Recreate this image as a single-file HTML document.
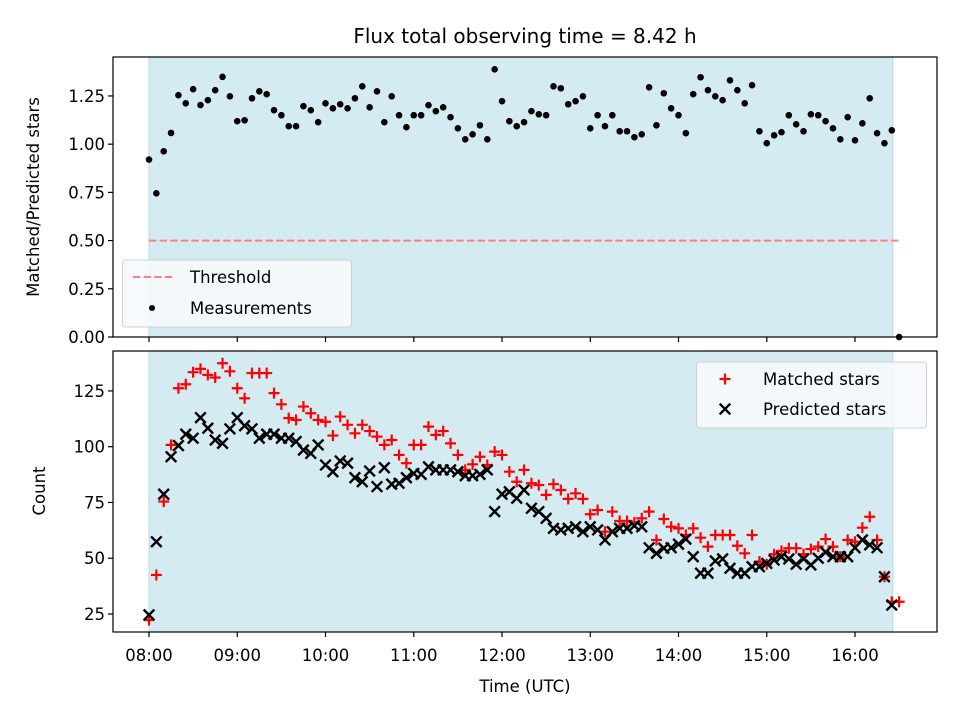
<!DOCTYPE html>
<html><head><meta charset="utf-8"><style>
html,body{margin:0;padding:0;background:#fff;}
svg{display:block;font-family:"DejaVu Sans","Liberation Sans",sans-serif;}
</style></head><body>
<svg id="fig" width="960" height="720" viewBox="0 0 960 720" xmlns="http://www.w3.org/2000/svg"></svg>
<script>
const ratioValues=[0.92,0.745,0.963,1.058,1.254,1.212,1.285,1.203,1.228,1.28,1.349,1.248,1.119,1.124,1.238,1.274,1.259,1.176,1.15,1.093,1.093,1.197,1.176,1.114,1.212,1.186,1.207,1.186,1.238,1.30,1.191,1.274,1.114,1.248,1.15,1.088,1.15,1.15,1.202,1.171,1.191,1.14,1.082,1.025,1.051,1.098,1.025,1.388,1.223,1.119,1.093,1.114,1.171,1.155,1.15,1.30,1.29,1.207,1.223,1.248,1.082,1.15,1.093,1.15,1.067,1.067,1.036,1.051,1.295,1.098,1.264,1.186,1.15,1.057,1.259,1.347,1.28,1.248,1.228,1.331,1.28,1.212,1.306,1.067,1.005,1.046,1.062,1.15,1.103,1.067,1.155,1.15,1.119,1.082,1.025,1.14,1.02,1.108,1.238,1.057,1.005,1.072,0];
const matchedValues=[22.3,42.5,75.4,100.8,126.2,128,133.4,134.9,132.2,131,137.4,133.8,126.2,121.7,133,133,133,124,119,112.8,112,118,115,112,111.2,105,113.5,109.8,106,109.8,107,104.5,100.8,103,96.3,92.6,100.8,100.8,109,105.3,107,101.5,96.3,89.6,92.1,95.5,91.8,97.8,96.3,88.8,84.3,89.6,83.6,82.8,78.4,83.2,80.6,76.6,79.1,76.6,69.7,71.6,61.9,70.9,66.7,66.7,66.1,67.9,70.9,58.2,67.6,64.1,63.4,60.4,63.4,59.2,55.2,60.4,60.4,60.4,55.6,52.2,60.4,48.5,47.3,51.8,53.3,54.5,54.5,51.8,54.1,55.2,58.6,55.2,50.7,58.2,57.4,63.7,68.6,58.2,41.7,30.5,30.5];
const predictedValues=[24.6,57.4,78.7,95.5,100.5,105.6,103.8,113,108.3,103,101.5,108,113,109.4,108,103.8,105.6,105.6,103.8,103.8,102.3,98.5,97,100.8,91.8,88.8,93.6,92.6,86.1,84.3,89.1,82.1,90.6,83.2,83.6,86.1,88,87.6,91,89.6,89.6,89.6,88.8,87,87,87.6,89.6,70.9,78.7,79.8,76.9,80.6,72.4,70.9,67.9,63.4,62.7,63.4,64.1,61.9,64.1,62.7,58.2,61.9,63.4,63.4,64.6,64.1,54.7,52.2,54.5,54.7,56.3,58.6,50.7,43.3,43.3,48.8,49.7,45.5,43.3,43.3,46.2,46.2,47.7,49.2,50.7,49.7,47.3,49.7,47,50,52.7,50.7,50.7,50.7,54.7,58.2,56,54.7,41.7,29];
const xTickLabels=["08:00","09:00","10:00","11:00","12:00","13:00","14:00","15:00","16:00"];
const topYTicks=[0,0.25,0.5,0.75,1.0,1.25];
const botYTicks=[25,50,75,100,125];
const stepMinutes=5;
const threshold=0.5;
const obsHours=8.43;

const NS="http://www.w3.org/2000/svg";
const svg=document.getElementById('fig');
function mk(tag,attrs,parent){const e=document.createElementNS(NS,tag);for(const k in attrs)e.setAttribute(k,attrs[k]);(parent||svg).appendChild(e);return e;}
const L=113,R=937,T1=57,B1=337,T2=351,B2=632;
const xMin=-0.408,xMax=8.929;
const sx=h=>L+(h-xMin)/(xMax-xMin)*(R-L);
const t1Min=0,t1Max=1.452;
const sy1=v=>B1-(v-t1Min)/(t1Max-t1Min)*(B1-T1);
const t2Min=16.93,t2Max=142.9;
const sy2=v=>B2-(v-t2Min)/(t2Max-t2Min)*(B2-T2);
const hourOf=i=>i*stepMinutes/60;

// shading
let e;
e=mk('rect',{x:sx(0),y:T1,width:sx(obsHours)-sx(0),height:B1-T1,fill:'#d5ebf2',stroke:'#b9dbe6','stroke-width':1});


e=mk('rect',{x:sx(0),y:T2,width:sx(obsHours)-sx(0),height:B2-T2,fill:'#d5ebf2',stroke:'#b9dbe6','stroke-width':1});



// threshold
e=mk('line',{x1:sx(0),x2:sx(8.5),y1:sy1(threshold),y2:sy1(threshold),stroke:'#ff8080','stroke-width':2,'stroke-dasharray':'7.4,3.2'});



// measurements
const gm=mk('g',{});


ratioValues.forEach((v,i)=>{
  const c=mk('circle',{cx:sx(hourOf(i)),cy:sy1(v),r:3.3,fill:'#000'},gm);
  
  
});

// matched (+)
const gp=mk('g',{stroke:'#ff0000','stroke-width':2.2});


matchedValues.forEach((v,i)=>{
  const x=sx(hourOf(i)),y=sy2(v),s=5.5;
  const p=mk('path',{d:`M${x-s},${y}H${x+s}M${x},${y-s}V${y+s}`},gp);
  
  
});
// predicted (x)
const gx=mk('g',{stroke:'#000','stroke-width':2.4});


predictedValues.forEach((v,i)=>{
  const x=sx(hourOf(i)),y=sy2(v),s=5.3;
  const p=mk('path',{d:`M${x-s},${y-s}L${x+s},${y+s}M${x-s},${y+s}L${x+s},${y-s}`},gx);
  
  
});

// axes frames
e=mk('rect',{x:L,y:T1,width:R-L,height:B1-T1,fill:'none',stroke:'#000','stroke-width':1.2});


e=mk('rect',{x:L,y:T2,width:R-L,height:B2-T2,fill:'none',stroke:'#000','stroke-width':1.2});



// ticks
xTickLabels.forEach((lab,i)=>{
  const x=sx(i);
  mk('line',{x1:x,x2:x,y1:B1,y2:B1+5,stroke:'#000','stroke-width':1.2});
  mk('line',{x1:x,x2:x,y1:B2,y2:B2+5,stroke:'#000','stroke-width':1.2});
  const t=mk('text',{x:x,y:B2+29,'text-anchor':'middle','font-size':'16.5px',fill:'#000'});
  t.textContent=lab;
  
  
});
topYTicks.forEach(v=>{
  const y=sy1(v);
  mk('line',{x1:L-5,x2:L,y1:y,y2:y,stroke:'#000','stroke-width':1.2});
  const t=mk('text',{x:L-8,y:y+6,'text-anchor':'end','font-size':'16.5px',fill:'#000'});
  t.textContent=v.toFixed(2);
  
  
});
botYTicks.forEach(v=>{
  const y=sy2(v);
  mk('line',{x1:L-5,x2:L,y1:y,y2:y,stroke:'#000','stroke-width':1.2});
  const t=mk('text',{x:L-8,y:y+6,'text-anchor':'end','font-size':'16.5px',fill:'#000'});
  t.textContent=String(v);
  
  
});

// labels
e=mk('text',{x:525,y:43,'text-anchor':'middle','font-size':'20px',fill:'#000'});
e.textContent='Flux total observing time = 8.42 h';


e=mk('text',{x:0,y:0,'text-anchor':'middle','font-size':'16.5px',fill:'#000',transform:'translate(39,197) rotate(-90)'});
e.textContent='Matched/Predicted stars';


e=mk('text',{x:0,y:0,'text-anchor':'middle','font-size':'16.5px',fill:'#000',transform:'translate(45,491) rotate(-90)'});
e.textContent='Count';


e=mk('text',{x:525,y:692,'text-anchor':'middle','font-size':'16.5px',fill:'#000'});
e.textContent='Time (UTC)';



// legend top
const lg1=mk('g',{});


mk('rect',{x:122.5,y:260,width:229,height:67,rx:3,fill:'#f6f9fc','fill-opacity':0.9,stroke:'#d0d0d0'},lg1);
mk('line',{x1:133,x2:173,y1:277,y2:277,stroke:'#ff8080','stroke-width':2,'stroke-dasharray':'7.4,3.2'},lg1);
e=mk('text',{x:190,y:283,'font-size':'16.5px',fill:'#000'},lg1);
e.textContent='Threshold';


mk('circle',{cx:152,cy:308,r:3,fill:'#000'},lg1);
e=mk('text',{x:190,y:314,'font-size':'16.5px',fill:'#000'},lg1);
e.textContent='Measurements';



// legend bottom
const lg2=mk('g',{});


mk('rect',{x:696.5,y:362,width:230,height:66,rx:3,fill:'#f6f9fc','fill-opacity':0.9,stroke:'#d0d0d0'},lg2);
mk('path',{d:'M719.5,379H730.5M725,373.5V384.5',stroke:'#ff0000','stroke-width':2.2},lg2);
e=mk('text',{x:763,y:385,'font-size':'16.5px',fill:'#000'},lg2);
e.textContent='Matched stars';


mk('path',{d:'M719.7,403.7L730.3,414.3M719.7,414.3L730.3,403.7',stroke:'#000','stroke-width':2.4},lg2);
e=mk('text',{x:763,y:415,'font-size':'16.5px',fill:'#000'},lg2);
e.textContent='Predicted stars';


</script>
</body></html>
